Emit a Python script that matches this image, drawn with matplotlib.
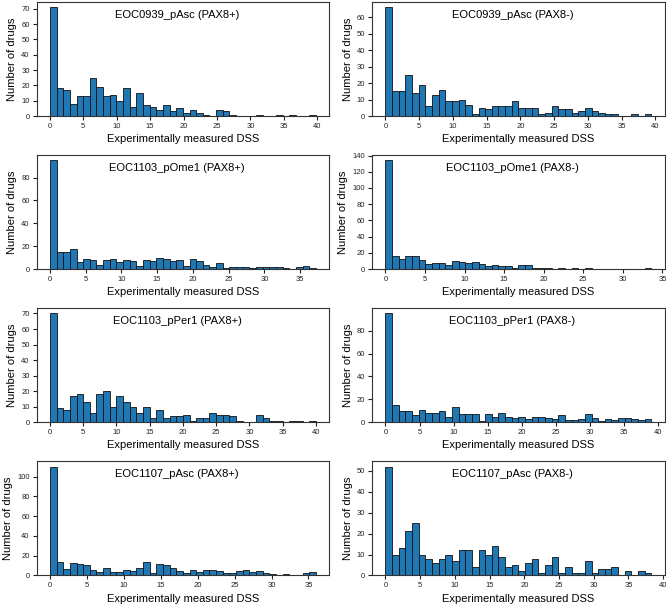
import numpy as np
import matplotlib.pyplot as plt
from matplotlib.ticker import MultipleLocator, MaxNLocator

plt.rcParams['font.family'] = ['Liberation Sans', 'DejaVu Sans']

# panel titles, in reading order (row by row)
titles = ['EOC0939_pAsc (PAX8+)', 'EOC0939_pAsc (PAX8-)',
          'EOC1103_pOme1 (PAX8+)', 'EOC1103_pOme1 (PAX8-)',
          'EOC1103_pPer1 (PAX8+)', 'EOC1103_pPer1 (PAX8-)',
          'EOC1107_pAsc (PAX8+)', 'EOC1107_pAsc (PAX8-)']

# max DSS per sample (upper edge of the 40 histogram bins)
dss_max = [39.8, 39.4, 37.2, 33.6, 40.0, 39.0, 36.0, 38.3]

# drug counts per bin (40 bins from 0 to dss_max)
counts_0939_pos = [71, 18, 17, 8, 13, 13, 25, 19, 13, 14, 10, 18, 6, 15, 7, 6, 4, 7, 3, 5,
                   2, 4, 2, 1, 0, 4, 3, 1, 0, 0, 0, 1, 0, 0, 1, 0, 1, 0, 0, 1]
counts_0939_neg = [66, 15, 15, 25, 14, 19, 6, 13, 16, 9, 9, 10, 7, 1, 5, 4, 6, 6, 6, 9,
                   5, 5, 5, 1, 2, 6, 4, 4, 2, 3, 5, 3, 2, 1, 1, 0, 0, 1, 0, 1]
counts_1103ome_pos = [95, 15, 15, 18, 6, 9, 8, 4, 8, 9, 6, 8, 7, 3, 8, 7, 10, 9, 7, 8,
                      3, 9, 7, 4, 2, 5, 1, 2, 2, 2, 1, 2, 2, 2, 2, 1, 0, 2, 3, 1]
counts_1103ome_neg = [134, 16, 12, 16, 16, 11, 6, 8, 8, 5, 10, 9, 8, 9, 6, 4, 5, 4, 4, 1,
                      5, 5, 2, 1, 1, 0, 1, 0, 1, 0, 1, 0, 0, 0, 0, 0, 0, 0, 0, 1]
counts_1103per_pos = [70, 9, 8, 17, 18, 13, 6, 18, 20, 10, 17, 13, 10, 6, 10, 3, 8, 3, 4, 4,
                      5, 1, 3, 3, 6, 5, 5, 4, 1, 0, 0, 5, 3, 1, 1, 0, 1, 1, 0, 1]
counts_1103per_neg = [95, 15, 10, 10, 6, 11, 8, 8, 10, 5, 13, 7, 7, 7, 1, 7, 5, 8, 5, 4,
                      5, 3, 5, 5, 4, 3, 6, 2, 2, 3, 7, 4, 1, 3, 2, 4, 4, 3, 2, 3]
counts_1107_pos = [110, 14, 7, 13, 12, 11, 5, 3, 8, 3, 3, 6, 4, 8, 14, 2, 12, 11, 8, 4,
                   2, 6, 3, 5, 6, 4, 2, 2, 4, 5, 3, 4, 2, 1, 0, 1, 0, 0, 2, 3]
counts_1107_neg = [52, 10, 13, 21, 25, 10, 8, 6, 8, 10, 7, 12, 12, 4, 12, 10, 14, 9, 4, 5,
                   2, 6, 8, 1, 5, 9, 1, 4, 1, 1, 7, 1, 3, 3, 4, 0, 2, 0, 2, 1]

all_counts = [counts_0939_pos, counts_0939_neg, counts_1103ome_pos, counts_1103ome_neg,
              counts_1103per_pos, counts_1103per_neg, counts_1107_pos, counts_1107_neg]

fig, axes = plt.subplots(4, 2, figsize=(6.66, 6.07), dpi=100)
fig.subplots_adjust(left=0.055, right=0.998, top=0.997, bottom=0.052,
                    hspace=0.34, wspace=0.147)

for ax, title, counts, mx in zip(axes.flat, titles, all_counts, dss_max):
    edges = np.linspace(0, mx, len(counts) + 1)
    centers = (edges[:-1] + edges[1:]) / 2
    ax.hist(centers, bins=edges, weights=counts, color='#1f77b4',
            edgecolor='#111111', linewidth=0.6)
    ax.text(0.48, 0.885, title, transform=ax.transAxes, ha='center', va='center',
            fontsize=8)
    ax.set_xlabel('Experimentally measured DSS', fontsize=8, labelpad=3)
    ax.set_ylabel('Number of drugs', fontsize=8, labelpad=3)
    ax.xaxis.set_major_locator(MultipleLocator(5))
    ax.yaxis.set_major_locator(MaxNLocator(8, steps=[1, 2, 5, 10]))
    ax.tick_params(labelsize=5.5, length=3, width=0.8, pad=2, colors='#222222')
    for s in ax.spines.values():
        s.set_color('#333333')
        s.set_linewidth(0.8)

plt.savefig('out.png', dpi=100)
